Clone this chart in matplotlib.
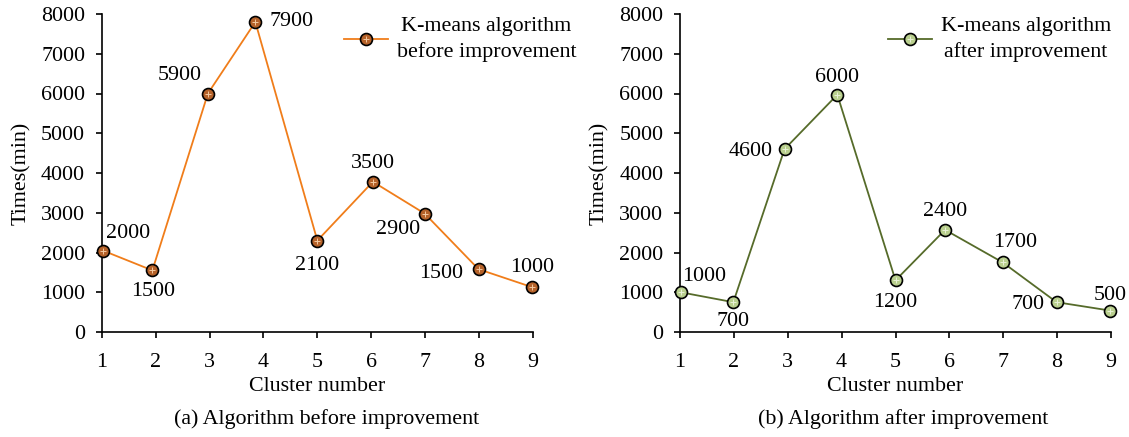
import numpy as np
import matplotlib
matplotlib.use("Agg")
import matplotlib.pyplot as plt

# ---- data ----
cluster_ticks = [1, 2, 3, 4, 5, 6, 7, 8, 9]

# (a) before improvement: plotted positions and printed labels
before_x = [1.02, 1.94, 2.97, 3.85, 5.0, 6.03, 6.99, 7.99, 8.98]
before_y = [2050, 1550, 6000, 7800, 2300, 3780, 2980, 1580, 1130]
before_labels = ["2000", "1500", "5900", "7900", "2100", "3500", "2900", "1500", "1000"]
before_offsets = [(25, 17), (1, -21), (-28, 18), (36, 0), (0, -25),
                  (0, 18), (-27, -16), (-37, -4), (0, 20)]

# (b) after improvement
after_x = [1.01, 1.99, 2.94, 3.92, 5.0, 5.92, 6.99, 7.99, 8.98]
after_y = [1000, 750, 4600, 5970, 1300, 2570, 1750, 750, 540]
after_labels = ["1000", "700", "4600", "6000", "1200", "2400", "1700", "700", "500"]
after_offsets = [(24, 16), (0, -19), (-34, -2), (0, 17), (0, -22),
                 (0, 18), (12, 20), (-29, -2), (0, 15)]

plt.rcParams["font.family"] = ["Liberation Serif", "DejaVu Serif"]
FS = 15.8

fig = plt.figure(figsize=(11.29, 4.37), dpi=100)
ax1 = fig.add_axes([101.7 / 1129, 1 - 332 / 437, 431.3 / 1129, 318 / 437])
ax2 = fig.add_axes([680 / 1129, 1 - 332 / 437, 431 / 1129, 318 / 437])


def draw_panel(ax, xs, ys, labels, offsets, line_c, face_c, cross_c, leg_label, leg_x):
    line, = ax.plot(xs, ys, color=line_c, lw=1.3, marker="o", markersize=8.6,
                    markerfacecolor=face_c, markeredgecolor="black",
                    markeredgewidth=1.2, zorder=3, clip_on=False)
    cross, = ax.plot(xs, ys, ls="none", marker="+", markersize=5,
                     markeredgecolor=cross_c, markeredgewidth=0.7, zorder=4,
                     clip_on=False)
    for x, y, s, (dx, dy) in zip(xs, ys, labels, offsets):
        ax.annotate(s, (x, y), xytext=(dx, dy), textcoords="offset pixels",
                    ha="center", va="center", fontsize=FS)

    ax.set_xlim(1, 9)
    ax.set_ylim(0, 8000)
    ax.set_xticks(cluster_ticks)
    ax.set_yticks(np.arange(0, 8001, 1000))
    ax.spines["top"].set_visible(False)
    ax.spines["right"].set_visible(False)
    for sp in ("left", "bottom"):
        ax.spines[sp].set_linewidth(1.2)
    ax.tick_params(direction="out", length=4, width=1.2, labelsize=FS)
    ax.tick_params(axis="x", pad=11)
    ax.tick_params(axis="y", pad=8)
    ax.set_xlabel("Cluster number", fontsize=FS, labelpad=4)
    ax.set_ylabel("Times(min)", fontsize=FS, labelpad=7)

    leg = ax.legend([(line, cross)], [leg_label], loc="upper left",
                    bbox_to_anchor=(leg_x, 0.99), frameon=False, fontsize=FS,
                    handlelength=2.0, handletextpad=0.4, borderpad=0,
                    borderaxespad=0)
    for t in leg.get_texts():
        t.set_multialignment("center")
        t.set_linespacing(1.4)


draw_panel(ax1, before_x, before_y, before_labels, before_offsets,
           "#f07d1a", "#b5622a", "#f3c9a0",
           "K-means algorithm\nbefore improvement", 0.562)
draw_panel(ax2, after_x, after_y, after_labels, after_offsets,
           "#566b2a", "#b9cf8e", "#e9f2d8",
           "K-means algorithm\nafter improvement", 0.483)

fig.text(327 / 1129, 1 - 419 / 437, "(a) Algorithm before improvement",
         ha="center", va="center", fontsize=FS)
fig.text(903 / 1129, 1 - 419 / 437, "(b) Algorithm after improvement",
         ha="center", va="center", fontsize=FS)

fig.savefig("out.png", dpi=100)
